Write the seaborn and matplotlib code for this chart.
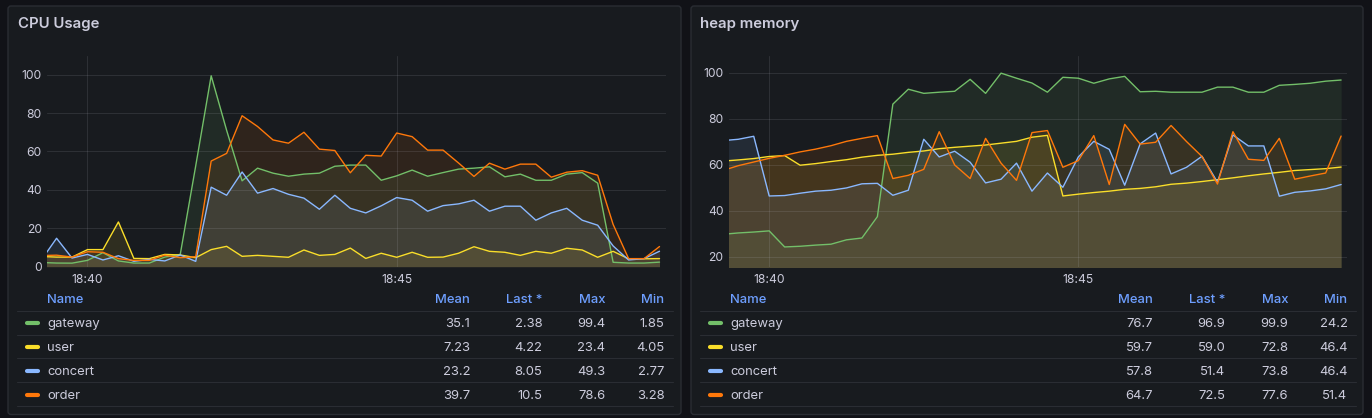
import matplotlib
matplotlib.use("Agg")
import matplotlib.pyplot as plt
import matplotlib.dates as mdates
from matplotlib.lines import Line2D
from matplotlib.patches import FancyBboxPatch
from matplotlib.transforms import Affine2D
import numpy as np
import pandas as pd
import seaborn as sns

W, H = 1372, 418

# ---- data (15 s samples, 18:39:15 .. 18:49:15) ----
series = ["gateway", "user", "concert", "order"]
colors = ["#73bf69", "#fade2a", "#8ab8ff", "#ff780a"]
times = pd.date_range("2024-05-01 18:39:15", periods=41, freq="15s")

cpu_gateway = [2.2, 1.9, 1.85, 3.3, 7.3, 3.0, 1.9, 1.9, 5.0, 6.4,
               52.5, 99.4, 71.0, 44.7, 51.3, 48.7, 47.1, 48.2, 48.7, 52.3,
               52.9, 52.9, 45.0, 47.3, 50.3, 47.1, 49.0, 50.8, 51.3, 52.0,
               46.8, 48.2, 45.0, 45.0, 48.2, 49.0, 43.5, 2.3, 1.9, 1.9, 2.38]
cpu_user = [5.3, 5.0, 5.0, 8.9, 8.9, 23.3, 4.3, 4.2, 6.4, 6.1,
            4.7, 8.9, 10.6, 5.4, 5.9, 5.4, 4.9, 8.7, 5.9, 6.4,
            9.7, 4.3, 7.0, 4.9, 7.5, 4.9, 5.0, 7.0, 10.4, 8.0,
            7.5, 5.9, 8.0, 7.0, 9.6, 8.7, 4.9, 8.0, 4.1, 4.1, 4.22]
cpu_concert = [3.3, 14.8, 4.5, 6.4, 3.5, 5.7, 2.8, 3.8, 3.0, 6.1,
               2.77, 41.4, 37.2, 49.3, 38.3, 40.7, 37.7, 35.7, 29.9, 37.2,
               30.4, 28.0, 31.7, 36.0, 34.6, 28.9, 31.8, 32.7, 34.6, 28.9,
               31.5, 31.5, 24.2, 28.0, 30.4, 24.2, 21.6, 10.8, 3.5, 4.2, 8.05]
cpu_order = [5.8, 6.0, 5.0, 7.8, 7.5, 4.2, 3.28, 3.3, 6.0, 4.7,
             5.2, 55.0, 59.0, 78.6, 73.0, 66.0, 64.3, 70.0, 61.2, 60.5,
             48.9, 58.0, 57.6, 69.6, 67.7, 60.7, 60.7, 54.0, 47.0, 53.9,
             50.8, 53.4, 53.4, 46.6, 49.2, 50.0, 47.6, 22.0, 4.2, 4.2, 10.5]

heap_gateway = [29.7, 30.3, 30.7, 31.2, 24.2, 24.5, 25.0, 25.4, 27.3, 28.1,
                37.4, 86.4, 92.9, 91.1, 91.6, 92.0, 97.2, 91.1, 99.9, 97.7,
                95.6, 91.6, 98.1, 97.7, 95.5, 97.4, 98.5, 91.8, 92.0, 91.6,
                91.6, 91.6, 93.8, 93.8, 91.6, 91.6, 94.6, 95.0, 95.5, 96.4, 96.9]
heap_user = [61.6, 62.1, 62.7, 63.6, 64.0, 59.8, 60.5, 61.4, 62.2, 63.3,
             64.1, 64.6, 65.4, 66.0, 67.0, 67.6, 68.1, 68.6, 69.4, 70.2,
             72.0, 72.8, 46.4, 47.2, 47.9, 48.5, 49.3, 49.7, 50.4, 51.5,
             52.0, 52.7, 53.5, 54.3, 55.2, 56.0, 56.7, 57.5, 57.9, 58.3, 59.0]
heap_concert = [70.5, 71.1, 72.4, 46.4, 46.6, 47.6, 48.5, 48.9, 49.9, 51.7,
                51.9, 46.7, 48.9, 71.1, 63.4, 65.9, 61.1, 52.1, 53.7, 60.7,
                48.5, 56.4, 50.2, 63.4, 70.2, 66.7, 51.1, 69.1, 73.8, 56.0,
                58.9, 63.7, 52.4, 73.0, 68.2, 68.2, 46.3, 48.0, 48.6, 49.5, 51.4]
heap_order = [57.5, 59.6, 61.2, 62.8, 64.1, 65.6, 66.8, 68.3, 70.2, 71.5,
              72.7, 54.0, 55.4, 58.0, 74.4, 59.9, 54.0, 71.5, 60.7, 53.2,
              74.0, 74.9, 58.9, 61.8, 72.7, 51.4, 77.6, 69.0, 69.8, 77.1,
              70.1, 63.6, 51.6, 74.4, 62.4, 61.9, 71.5, 53.7, 55.1, 56.4, 72.5]

stat_cols = ["Mean", "Last *", "Max", "Min"]
cpu_stats = [["35.1", "2.38", "99.4", "1.85"],
             ["7.23", "4.22", "23.4", "4.05"],
             ["23.2", "8.05", "49.3", "2.77"],
             ["39.7", "10.5", "78.6", "3.28"]]
heap_stats = [["76.7", "96.9", "99.9", "24.2"],
              ["59.7", "59.0", "72.8", "46.4"],
              ["57.8", "51.4", "73.8", "46.4"],
              ["64.7", "72.5", "77.6", "51.4"]]

# ---- style ----
BG, PANEL, BORDER = "#111217", "#181b1f", "#2a2d33"
TXT, HEAD = "#ccccdc", "#6e9fff"
sns.set_theme(style="darkgrid", rc={
    "figure.facecolor": BG, "axes.facecolor": "none",
    "grid.color": (0.8, 0.8, 0.86, 0.12), "grid.linewidth": 0.75,
    "xtick.color": TXT, "ytick.color": TXT,
    "xtick.labelsize": 8.7, "ytick.labelsize": 8.7,
})
plt.rcParams["font.family"] = ["Inter", "DejaVu Sans"]

fig = plt.figure(figsize=(W / 100, H / 100), dpi=100)
# pixel coords, origin top-left
pix = Affine2D().scale(1 / W, -1 / H).translate(0, 1) + fig.transFigure


def long_df(vals):
    return pd.DataFrame({
        "time": np.tile(times, len(series)),
        "series": np.repeat(series, len(times)),
        "value": np.concatenate(vals),
    })


panels = [
    dict(title="CPU Usage", x0=8, x1=681, ax=(47.3, 56, 665.7, 266.7),
         ylim=(0, 109.7), yticks=[0, 20, 40, 60, 80, 100],
         df=long_df([cpu_gateway, cpu_user, cpu_concert, cpu_order]),
         stats=cpu_stats, off=0),
    dict(title="heap memory", x0=691, x1=1363, ax=(729, 55.7, 1347.3, 266.7),
         ylim=(15.6, 107.5), yticks=[20, 40, 60, 80, 100],
         df=long_df([heap_gateway, heap_user, heap_concert, heap_order]),
         stats=heap_stats, off=683),
]

for p in panels:
    fig.add_artist(FancyBboxPatch((p["x0"], 6), p["x1"] - p["x0"], 408.5,
                                  boxstyle="round,pad=0,rounding_size=3",
                                  transform=pix, fc=PANEL, ec=BORDER, lw=1, zorder=-5))
    fig.text(p["x0"] + 9.5, 28.3, p["title"], transform=pix, color=TXT,
             fontsize=10.8, fontweight="semibold", va="baseline")

    x0, y0, x1, y1 = p["ax"]
    ax = fig.add_axes([x0 / W, 1 - y1 / H, (x1 - x0) / W, (y1 - y0) / H])
    df = p["df"]
    for name, c in zip(series, colors):
        sub = df[df["series"] == name]
        ax.fill_between(sub["time"], sub["value"], 0, color=c, alpha=0.1, lw=0, zorder=1)
    sns.lineplot(data=df, x="time", y="value", hue="series", hue_order=series,
                 palette=colors, linewidth=1, estimator=None, sort=False,
                 legend=False, ax=ax)
    ax.set_axisbelow("line")
    ax.set_xlim(pd.Timestamp("2024-05-01 18:39:21"), pd.Timestamp("2024-05-01 18:49:21"))
    ax.set_ylim(*p["ylim"])
    ax.set_yticks(p["yticks"])
    ax.xaxis.set_major_locator(mdates.MinuteLocator(byminute=[40, 45]))
    ax.xaxis.set_major_formatter(mdates.DateFormatter("%H:%M"))
    ax.tick_params(axis="x", length=0, pad=5.5)
    ax.tick_params(axis="y", length=0, pad=4)
    ax.set_xlabel("")
    ax.set_ylabel("")
    for s in ax.spines.values():
        s.set_visible(False)

    # legend table
    o = p["off"]
    col_x = [470 + o, 542.3 + o, 605.2 + o, 664.5 + o]
    fig.text(47 + o, 303.3, "Name", transform=pix, color=HEAD, fontsize=9.4,
             fontweight="medium", va="baseline")
    for cx, lab in zip(col_x, stat_cols):
        fig.text(cx, 303.3, lab, transform=pix, color=HEAD, fontsize=9.4,
                 fontweight="medium", va="baseline", ha="right")
    for y in [311.3, 334.5, 358.4, 382.4, 406.3]:
        fig.add_artist(Line2D([17.3 + o, 672.7 + o], [y, y], transform=pix,
                              color=BORDER, lw=0.8))
    for i, (name, c, row) in enumerate(zip(series, colors, p["stats"])):
        yb = 327 + 23.9 * i
        fig.add_artist(Line2D([26.5 + o, 37.5 + o], [yb - 4, yb - 4], transform=pix,
                              color=c, lw=3, solid_capstyle="round"))
        fig.text(47 + o, yb, name, transform=pix, color=TXT, fontsize=9.4, va="baseline")
        for cx, v in zip(col_x, row):
            fig.text(cx, yb, v, transform=pix, color=TXT, fontsize=9.4,
                     va="baseline", ha="right")

fig.savefig("out.png", dpi=100, facecolor=BG)
